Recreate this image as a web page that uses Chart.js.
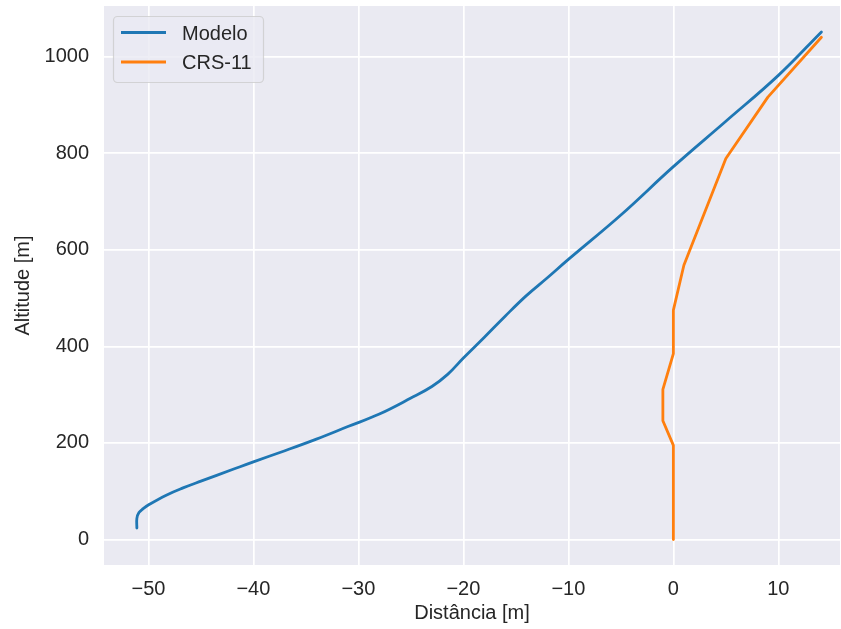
<!DOCTYPE html>
<html>
<head>
<meta charset="utf-8">
<script src="https://cdn.jsdelivr.net/npm/chart.js@4"></script>
<style>
  body { margin: 0; background: #fff; }
  #wrap { width: 841px; height: 629px; }
</style>
</head>
<body>
<div id="wrap"><canvas id="c" width="841" height="629"></canvas></div>
<script>
// model trajectory
var modeloX = [-51.1, -51.1, -50.9, -50.5, -49.9, -48.3, -46.7, -45.0, -42.0, -40.0, -37.0, -34.0, -31.0, -28.0, -25.0, -23.0, -21.5, -20.0, -18.0, -16.0, -14.0, -12.0, -10.0, -5.0, 0.0, 5.0, 10.0, 14.1];
var modeloY = [24, 44, 56, 64, 73, 92, 107, 121, 145, 161, 184, 208, 234, 260, 293, 317, 342, 376, 419, 463, 505, 542, 580, 672, 772, 866, 961, 1051];

// CRS-11 measured trajectory
var crsX = [0, 0, -1, -1, 0, 0, 1, 5, 9, 14.1];
var crsY = [0, 195, 246, 311, 385, 475, 568, 789, 916, 1040];

var seriesNames = ['Modelo', 'CRS-11'];
var seriesColors = ['#1f77b4', '#ff7f0e'];

var xTickValues = [-50, -40, -30, -20, -10, 0, 10];
var yTickValues = [0, 200, 400, 600, 800, 1000];
var xRange = [-54.23, 15.87];
var yRange = [-52.6, 1104.6];

var FONT = '"Liberation Sans", Arial, sans-serif';
var TXT = '#262626';

function pts(xs, ys) {
  return xs.map(function(x, i) { return { x: x, y: ys[i] }; });
}
function fmt(v) {
  return String(v).replace('-', '\u2212');
}

var bgPlugin = {
  id: 'bg',
  beforeDraw: function(chart) {
    var a = chart.chartArea, ctx = chart.ctx;
    ctx.save();
    ctx.fillStyle = '#EAEAF2';
    ctx.fillRect(a.left, a.top, a.right - a.left, a.bottom - a.top);
    ctx.restore();
  }
};

// matplotlib-like legend box in the upper left
var legendPlugin = {
  id: 'mplLegend',
  afterDatasetsDraw: function(chart) {
    var ctx = chart.ctx;
    var x0 = 113.5, y0 = 16.5, w = 150, h = 66, r = 4;
    ctx.save();
    ctx.beginPath();
    ctx.moveTo(x0 + r, y0);
    ctx.arcTo(x0 + w, y0, x0 + w, y0 + h, r);
    ctx.arcTo(x0 + w, y0 + h, x0, y0 + h, r);
    ctx.arcTo(x0, y0 + h, x0, y0, r);
    ctx.arcTo(x0, y0, x0 + w, y0, r);
    ctx.closePath();
    ctx.fillStyle = 'rgba(234,234,242,0.8)';
    ctx.fill();
    ctx.strokeStyle = 'rgba(204,204,204,0.8)';
    ctx.lineWidth = 1.2;
    ctx.stroke();
    chart.data.datasets.forEach(function(ds, i) {
      var ly = 32.5 + i * 29.5;
      ctx.beginPath();
      ctx.moveTo(121, ly);
      ctx.lineTo(166, ly);
      ctx.strokeStyle = ds.borderColor;
      ctx.lineWidth = 2.8;
      ctx.stroke();
      ctx.fillStyle = TXT;
      ctx.font = '20px ' + FONT;
      ctx.textBaseline = 'middle';
      ctx.textAlign = 'left';
      ctx.fillText(ds.label, 182, ly + 1.5);
    });
    ctx.restore();
  }
};

function fixedTicks(values) {
  return function(s) {
    s.ticks = values.map(function(v) { return { value: v }; });
  };
}

new Chart(document.getElementById('c'), {
  type: 'scatter',
  data: {
    datasets: [
      // smooth model curve
      { label: seriesNames[0], data: pts(modeloX, modeloY), borderColor: seriesColors[0], backgroundColor: seriesColors[0], tension: 0.4 },
      { label: seriesNames[1], data: pts(crsX, crsY), borderColor: seriesColors[1], backgroundColor: seriesColors[1], tension: 0 }
    ]
  },
  options: {
    responsive: false,
    animation: false,
    layout: { padding: { top: 6, right: 1, left: 0, bottom: 0 } },
    elements: {
      point: { radius: 0, hoverRadius: 0 },
      line: { borderWidth: 2.8, borderCapStyle: 'round', borderJoinStyle: 'round' }
    },
    datasets: { scatter: { showLine: true } },
    plugins: { legend: { display: false }, tooltip: { enabled: false } },
    scales: {
      x: {
        type: 'linear',
        min: xRange[0], max: xRange[1],
        border: { display: false },
        grid: { color: '#ffffff', lineWidth: 1.7, drawTicks: false },
        ticks: {
          padding: 12, maxRotation: 0, autoSkip: false,
          color: TXT, font: { family: FONT, size: 20 },
          callback: function(v) { return fmt(v); }
        },
        afterBuildTicks: fixedTicks(xTickValues),
        title: { display: true, text: 'Distância [m]', color: TXT, font: { family: FONT, size: 20 }, padding: { top: 0, bottom: 4 } },
        afterFit: function(s) { s.height = 64; s.paddingLeft = 0; s.paddingRight = 0; }
      },
      y: {
        type: 'linear',
        min: yRange[0], max: yRange[1],
        border: { display: false },
        grid: { color: '#ffffff', lineWidth: 1.7, drawTicks: false },
        ticks: {
          padding: 15, autoSkip: false,
          color: TXT, font: { family: FONT, size: 20 },
          callback: function(v) { return fmt(v); }
        },
        afterBuildTicks: fixedTicks(yTickValues),
        title: { display: true, text: 'Altitude [m]', color: TXT, font: { family: FONT, size: 20 }, padding: { top: 11, bottom: 0 } },
        afterFit: function(s) { s.width = 104; s.paddingTop = 0; s.paddingBottom = 0; }
      }
    }
  },
  plugins: [bgPlugin, legendPlugin]
});
</script>
</body>
</html>
